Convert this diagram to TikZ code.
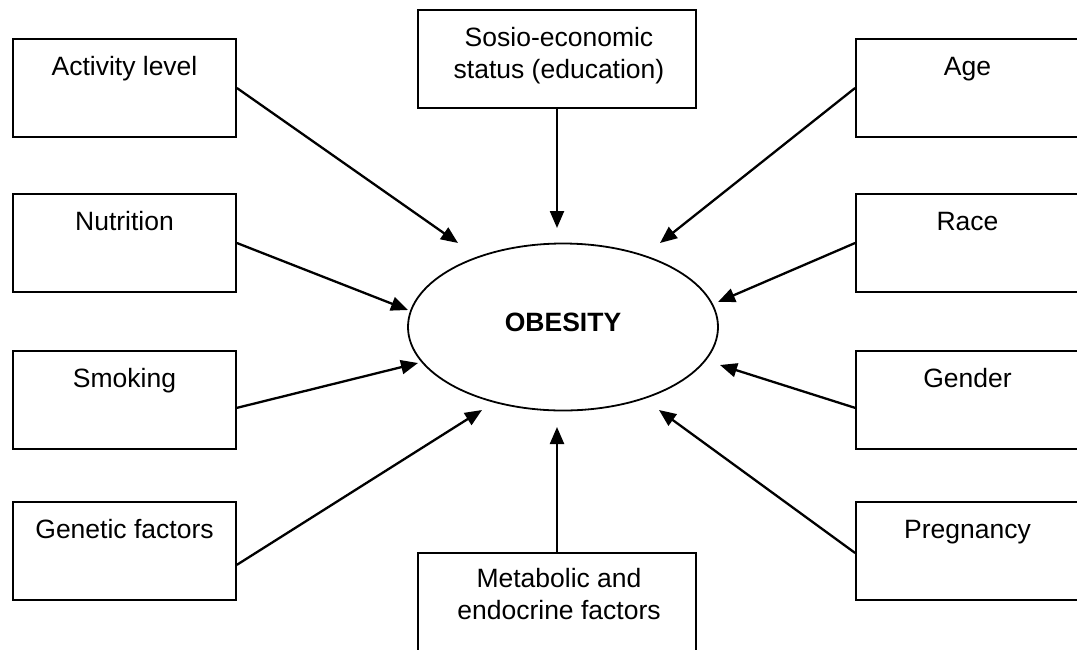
\documentclass[tikz,border=0pt]{standalone}
\usepackage{fontspec}
\setmainfont{Liberation Sans}
\usetikzlibrary{shapes.geometric,arrows.meta}
\begin{document}
\begin{tikzpicture}[x=1pt,y=-1pt,
  box/.style={draw=black, line width=1.8pt, minimum width=223pt, minimum height=98pt, inner sep=0pt},
  widebox/.style={box, minimum width=278pt},
  lbl/.style={font=\fontsize{26.5}{31.5}\selectfont, anchor=base, inner sep=0pt, align=center},
  conn/.style={line width=2.3pt, -{Triangle[length=17pt,width=14pt]}}]
\useasboundingbox (0,0) rectangle (1077,649);
\clip (0,0) rectangle (1077,649);
% left boxes
\node[box] (act) at (124.5,88) {};
\node[box] (nut) at (124.5,243) {};
\node[box] (smk) at (124.5,400) {};
\node[box] (gen) at (124.5,551) {};
% right boxes
\node[box] (age) at (967.5,88) {};
\node[box] (race) at (967.5,243) {};
\node[box] (gend) at (967.5,400) {};
\node[box] (preg) at (967.5,551) {};
% top / bottom
\node[widebox] (ses) at (557,59) {};
\node[widebox] (met) at (557,602) {};
% labels
\node[lbl] (actT) at (124.5,75) {Activity level};
\node[lbl] (nutT) at (124.5,230) {Nutrition};
\node[lbl] (smkT) at (124.5,387) {Smoking};
\node[lbl] (genT) at (124.5,538) {Genetic factors};
\node[lbl] (ageT) at (967.5,75) {Age};
\node[lbl] (raceT) at (967.5,230) {Race};
\node[lbl] (gendT) at (967.5,387) {Gender};
\node[lbl] (pregT) at (967.5,538) {Pregnancy};
\node[lbl] (sesT) at (559,78) {Sosio-economic\\status (education)};
\node[lbl] (metT) at (559,619) {Metabolic and\\endocrine factors};
% ellipse
\node[draw=black, line width=1.8pt, ellipse, minimum width=310pt, minimum height=167pt, inner sep=0pt] (ob) at (563,327) {};
\node[font=\fontsize{26.5}{31}\selectfont\bfseries, inner sep=0pt] (obT) at (563,322.5) {OBESITY};
% tip coordinates
\coordinate (tAct) at (458,243);
\coordinate (tSes) at (557,228);
\coordinate (tAge) at (660,243);
\coordinate (tNut) at (408,310);
\coordinate (tRace) at (718,302);
\coordinate (tSmk) at (418,363);
\coordinate (tGend) at (720,365);
\coordinate (tGen) at (482,410);
\coordinate (tMet) at (557,427);
\coordinate (tPreg) at (659,410);
% connectors
\draw[conn] (act.east) -- (tAct);
\draw[conn] (nut.east) -- (tNut);
\draw[conn] (smk.-4.6) -- (tSmk);
\draw[conn] (gen.-7.2) -- (tGen);
\draw[conn] (age.west) -- (tAge);
\draw[conn] (race.west) -- (tRace);
\draw[conn] (gend.184.6) -- (tGend);
\draw[conn] (preg.181) -- (tPreg);
\draw[conn] (ses.south) -- (tSes);
\draw[conn] (met.north) -- (tMet);
\end{tikzpicture}
\end{document}
